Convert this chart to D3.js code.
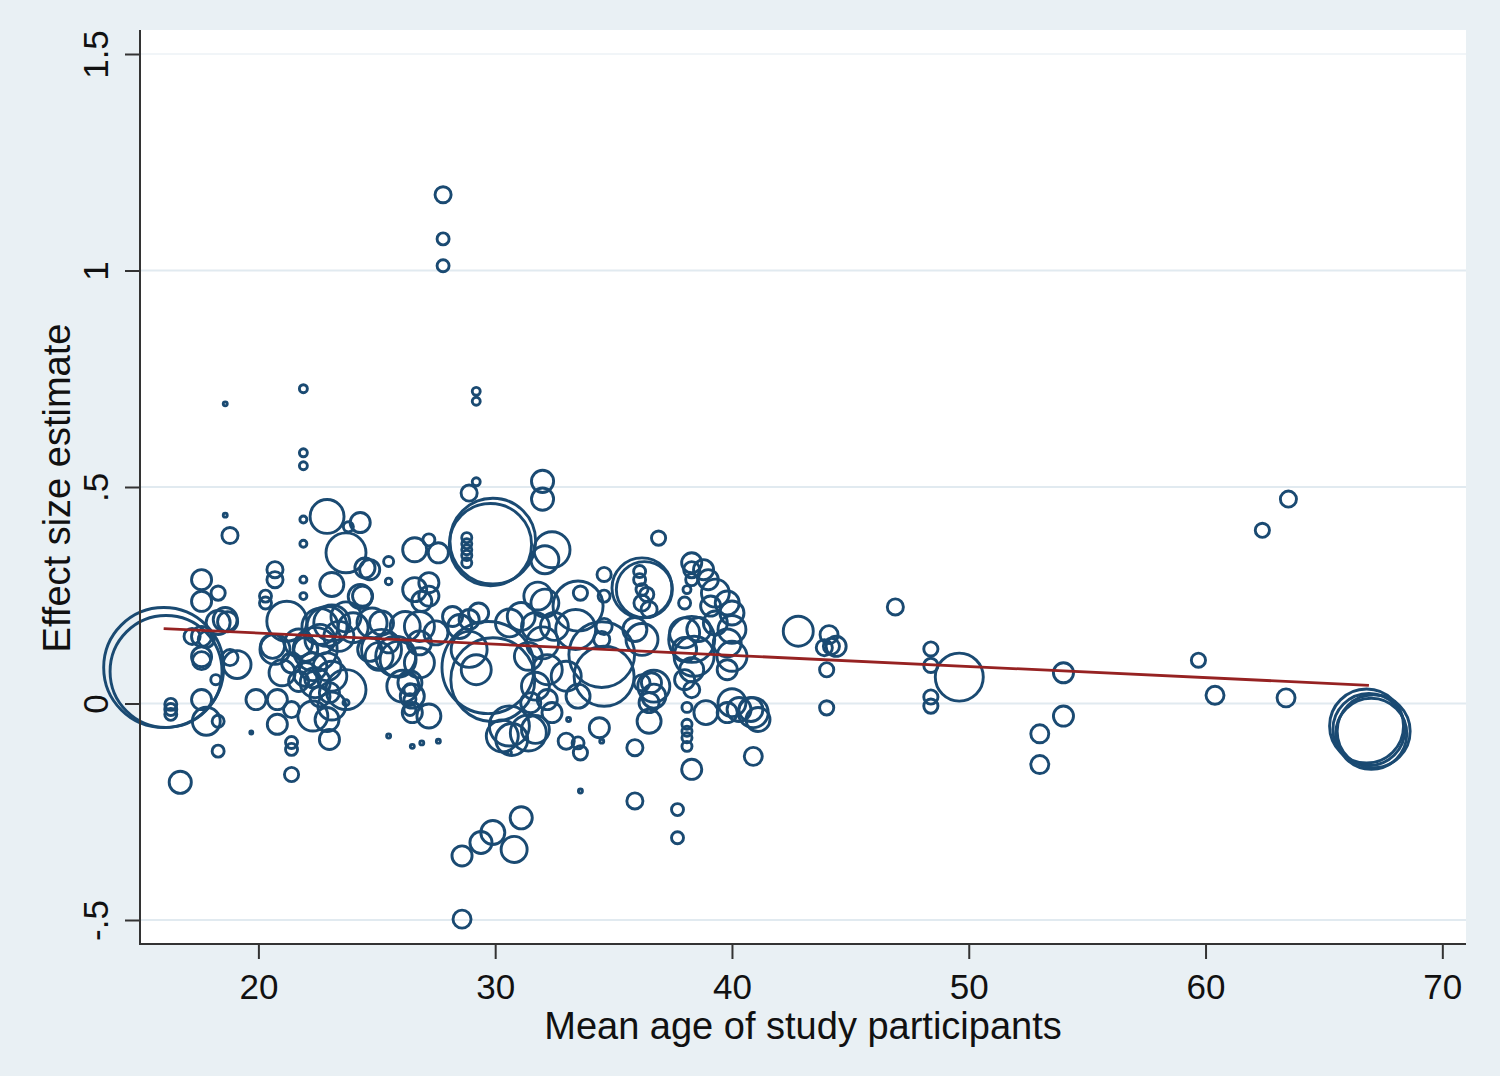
<!DOCTYPE html>
<html><head><meta charset="utf-8">
<script src="https://cdn.jsdelivr.net/npm/d3@7"></script>
<style>body{margin:0;background:#e9f0f4}svg{display:block}</style>
</head><body><svg id="c" width="1500" height="1076"></svg>
<script>
const xTicks = [20, 30, 40, 50, 60, 70];
const yTicks = [-0.5, 0, 0.5, 1, 1.5];
const yTickLabels = ["-.5", "0", ".5", "1", "1.5"];
const xTitle = "Mean age of study participants";
const yTitle = "Effect size estimate";

const ages = [
16.0,16.1,16.3,16.3,16.3,16.7,17.6,18.3,17.6,17.6,
17.6,17.6,17.2,17.8,18.6,18.3,18.7,18.8,19.1,17.6,
17.8,18.3,18.3,18.8,18.6,18.6,18.2,19.7,19.9,20.8,
21.4,20.8,21.4,21.4,21.4,20.7,20.7,20.3,20.3,21.9,
21.9,21.9,21.9,21.9,21.9,21.9,21.2,20.7,21.0,20.6,
21.7,21.4,21.7,22.0,22.4,22.6,23.1,23.4,22.4,23.1,
23.1,22.3,23.0,23.0,23.7,23.7,24.5,23.1,24.4,22.9,
24.3,23.8,24.0,24.8,25.2,25.9,24.7,24.3,23.7,22.9,
22.6,22.9,22.3,22.0,22.3,22.6,22.9,23.7,25.5,25.5,
26.6,27.2,27.6,26.6,27.2,26.9,27.2,24.7,25.2,26.2,
26.8,27.5,26.8,25.5,25.8,25.1,26.8,26.1,26.4,26.5,
26.4,26.4,26.4,27.2,26.5,25.5,26.5,26.9,27.6,28.5,
28.9,28.2,29.3,28.9,29.2,29.2,29.2,27.8,27.8,27.8,
29.9,29.8,28.8,28.8,28.8,28.8,28.8,32.0,32.0,32.4,
32.1,29.7,29.9,28.9,29.2,30.6,31.1,31.8,32.1,32.5,
31.7,32.0,31.4,32.2,31.7,30.6,30.3,31.4,30.7,31.7,
32.4,32.2,31.5,30.6,33.0,28.6,29.4,29.9,30.8,31.1,
28.6,33.5,33.6,34.4,35.9,35.9,33.6,37.7,37.7,38.3,
38.1,38.1,38.1,38.1,38.1,40.9,38.9,40.0,40.9,41.1,
39.8,36.5,36.5,33.1,34.5,36.9,36.2,36.3,36.1,36.1,
36.2,36.4,36.2,36.5,34.6,33.6,34.6,33.5,33.4,34.5,
34.6,34.6,34.5,36.2,35.9,38.3,38.4,38.0,38.6,38.0,
38.3,38.0,38.3,38.3,38.3,38.3,38.1,39.0,39.3,39.1,
39.8,40.0,40.0,39.8,40.0,39.8,39.3,38.0,38.8,36.7,
36.7,36.6,36.2,33.0,33.5,40.3,40.8,42.8,44.1,44.4,
44.2,43.9,44.0,44.0,46.9,48.4,48.4,48.4,48.4,49.6,
54.0,54.0,53.0,53.0,59.7,60.4,63.4,62.4,63.5,66.8,
66.9,67.0,67.1
];

const effects = [
0.083,0.074,-0.002,-0.014,-0.025,-0.182,0.286,0.255,0.236,0.155,
0.108,0.099,0.155,0.148,0.194,0.187,0.189,0.106,0.090,0.009,
-0.041,-0.041,-0.110,0.388,0.692,0.435,0.055,-0.067,0.009,0.009,
-0.014,-0.048,-0.090,-0.106,-0.164,0.309,0.286,0.248,0.232,0.286,
0.248,0.369,0.425,0.727,0.579,0.549,0.190,0.125,0.071,0.132,
0.140,0.094,0.051,0.067,0.125,0.178,0.186,0.155,0.048,0.063,
-0.006,-0.029,-0.083,0.025,0.032,0.348,0.313,0.275,0.248,0.432,
0.418,0.408,0.175,0.186,0.125,0.102,0.125,0.247,0.200,0.178,
0.148,0.085,0.085,0.125,0.055,0.016,-0.037,0.002,0.328,0.282,
0.355,0.378,0.348,0.263,0.248,0.236,0.279,0.309,0.186,0.178,
0.178,0.163,0.140,0.140,0.109,0.109,0.094,0.040,0.048,0.017,
0.032,0.009,-0.014,-0.029,-0.021,-0.075,-0.099,-0.091,-0.087,0.178,
0.194,0.201,0.209,0.486,0.512,0.698,0.721,1.175,1.073,1.011,
0.375,0.367,0.383,0.369,0.355,0.342,0.325,0.513,0.472,0.355,
0.332,0.083,0.055,0.125,0.078,0.186,0.201,0.248,0.232,0.178,
0.178,0.140,0.109,0.078,0.040,-0.052,-0.075,-0.068,-0.083,-0.060,
-0.021,0.009,0.002,-0.114,-0.087,-0.352,-0.321,-0.298,-0.337,-0.264,
-0.498,-0.091,-0.114,-0.056,-0.102,-0.225,-0.202,-0.245,-0.310,-0.152,
-0.009,-0.048,-0.064,-0.079,-0.099,-0.122,-0.021,0.002,-0.021,-0.037,
-0.021,-0.041,0.002,-0.037,-0.087,0.382,0.267,0.263,0.305,0.286,
0.263,0.252,0.232,0.217,0.298,0.255,0.248,0.225,0.171,0.113,
0.063,0.178,0.148,0.148,0.171,0.148,0.109,0.163,0.171,0.125,
0.078,0.055,0.032,0.325,0.309,0.286,0.263,0.286,0.255,0.225,
0.232,0.209,0.171,0.140,0.109,0.078,0.186,0.232,0.309,0.040,
0.017,0.048,0.048,0.063,0.017,-0.014,-0.014,0.167,0.159,0.132,
0.132,0.129,0.078,-0.010,0.223,0.126,0.088,0.015,-0.006,0.061,
0.071,-0.029,-0.070,-0.141,0.100,0.019,0.013,0.400,0.472,-0.052,
-0.060,-0.070,-0.064
];

const weights = [
100,87,1,1,1,3.4,2.8,1.4,2.8,2.8,
2.8,2.25,1.8,1.8,4,4,2.8,1.8,5.4,2.8,
5.4,1,1,1.8,0.11,0.11,0.7,0.06,2.8,2.8,
1.8,2.8,1,1,1.4,1.8,1.8,1,1,0.34,
0.34,0.34,0.34,0.44,0.44,0.44,11.1,6.25,4.7,4,
5.4,2.8,2.8,4,13.4,9,9,6.25,6.25,6.25,
5.4,6.25,2.8,2.8,11.1,11.1,2.8,4,2.8,8,
2.8,0.7,6.25,6.25,11.1,9,4,4,6.25,11.1,
6.25,5.4,5.4,4,1.8,2.8,4,0.25,0.7,0.3,
4,1,2.8,4,2.8,2.8,2.8,2.8,4,6.25,
6.25,4,4,2.8,11.1,5.4,6.25,7.1,4,4,
1,1,1,4,2.8,0.11,0.11,0.11,0.11,4,
2.8,2.8,2.8,1.8,0.44,0.44,0.44,1.8,1,1,
51,47,0.7,0.7,0.7,0.7,0.7,3.4,3.4,9,
5.4,59,49,9,6.25,5.4,5.4,5.4,5.4,5.4,
5.4,7.1,5.4,6.25,5.4,11.1,7.1,9,7.1,5.4,
2.8,2.8,2.8,0.11,1.8,2.8,3.4,4,4.7,3.4,
2.25,1,1.4,2.8,1.8,1.8,0.11,1,1,2.8,
0.7,0.7,0.7,0.7,0.7,2.25,4,5.4,6.25,4,
2.8,4,2.8,0.11,0.11,1.4,25,21.8,1,1,
1,1.4,1.8,1.8,1.4,1.4,1,17.4,11.1,30,
25,1.8,1.8,7.1,4,14.7,11.1,6.25,4,4,
4,2.8,1.8,2.8,1.8,1,0.44,2.8,5.4,2.8,
4,4,5.4,5.4,6.25,2.8,4,1,2.8,7.1,
4,2.8,1.8,6.25,4,4,4,6.25,2.25,2.8,
1.8,1.8,1.4,1.4,1.8,1.4,1.4,1.4,1.4,16,
2.8,2.8,2.25,2.25,1.4,2.25,2.25,1.4,1.8,38,
36,35,37
];

const fitAge = [16, 66.9];
const fitEffect = [0.173, 0.042];

const W = 1500, H = 1076;
const P = {l: 140, r: 1466, t: 30, b: 944};
const FONT = "'Liberation Sans', Arial, Helvetica, sans-serif";

const svg = d3.select("#c");
svg.append("rect").attr("width", W).attr("height", H).attr("fill", "#e9f0f4");

const x = d3.scaleLinear().domain([15, 71.0]).range([P.l, P.r]);
const y = d3.scaleLinear().domain([-0.5, 1.5]).range([920, 54]);
const r = d3.scaleSqrt().domain([0, 100]).range([0, 60]);

svg.append("rect").attr("x", P.l).attr("y", P.t)
  .attr("width", P.r - P.l).attr("height", P.b - P.t).attr("fill", "#ffffff");

// grid
svg.append("g").selectAll("line").data(yTicks).join("line")
  .attr("x1", P.l).attr("x2", P.r)
  .attr("y1", d => y(d)).attr("y2", d => y(d))
  .attr("stroke", d => d === 1.5 ? "#f1f5f8" : "#e1eaf0").attr("stroke-width", 2);

// bubbles
const pts = ages.map((a, i) => ({a, e: effects[i], w: weights[i]}));
svg.append("g").selectAll("circle").data(pts).join("circle")
  .attr("cx", d => x(d.a)).attr("cy", d => y(d.e)).attr("r", d => r(d.w))
  .attr("fill", "none").attr("stroke", "#1a4a72").attr("stroke-width", 2.9);

// fitted line
svg.append("path")
  .datum(fitAge.map((a, i) => [a, fitEffect[i]]))
  .attr("d", d3.line().x(d => x(d[0])).y(d => y(d[1])))
  .attr("stroke", "#962222").attr("stroke-width", 2.8).attr("fill", "none");

// axes
const gx = svg.append("g").attr("transform", `translate(0,${P.b})`)
  .call(d3.axisBottom(x).tickValues(xTicks).tickSize(15).tickPadding(15).tickSizeOuter(0));
gx.select(".domain").remove();
gx.selectAll(".tick line").attr("stroke", "#333").attr("stroke-width", 2);
gx.selectAll(".tick text").attr("font-family", FONT).attr("font-size", 35).attr("fill", "#111");

const gy = svg.append("g").attr("transform", `translate(${P.l},0)`)
  .call(d3.axisLeft(y).tickValues(yTicks).tickFormat((d, i) => yTickLabels[i]).tickSize(15).tickSizeOuter(0));
gy.select(".domain").remove();
gy.selectAll(".tick line").attr("stroke", "#333").attr("stroke-width", 2);
gy.selectAll(".tick text")
  .attr("font-family", FONT).attr("font-size", 35).attr("fill", "#111")
  .attr("transform", "rotate(-90)").attr("x", 0).attr("y", -32).attr("dy", 0)
  .attr("text-anchor", "middle");

svg.append("line").attr("x1", P.l).attr("x2", P.l).attr("y1", P.t).attr("y2", P.b + 1)
  .attr("stroke", "#333").attr("stroke-width", 2);
svg.append("line").attr("x1", P.l - 1).attr("x2", P.r).attr("y1", P.b).attr("y2", P.b)
  .attr("stroke", "#333").attr("stroke-width", 2);

svg.append("text").attr("x", (P.l + P.r) / 2).attr("y", 1039)
  .attr("text-anchor", "middle").attr("font-family", FONT).attr("font-size", 38).attr("fill", "#111")
  .text(xTitle);
svg.append("text").attr("transform", "translate(70,488) rotate(-90)")
  .attr("text-anchor", "middle").attr("font-family", FONT).attr("font-size", 38).attr("fill", "#111")
  .text(yTitle);
</script>
</body></html>
